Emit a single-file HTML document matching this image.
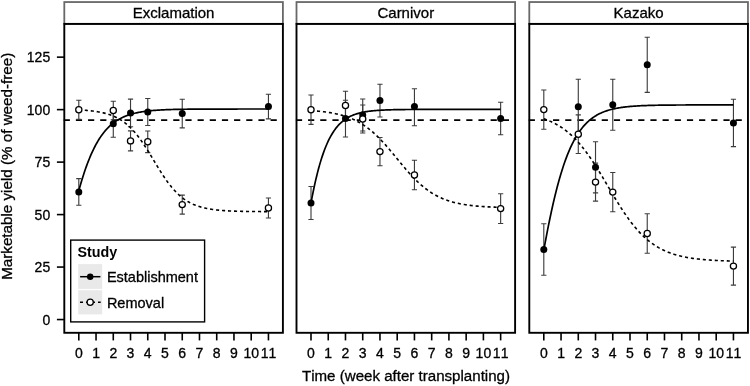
<!DOCTYPE html>
<html><head><meta charset="utf-8"><title>Marketable yield</title>
<style>html,body{margin:0;padding:0;background:#fff}svg{display:block;filter:blur(.35px)}text{stroke:#000;stroke-width:.3px;font-kerning:none}.b{stroke-width:0}</style></head>
<body>
<svg width="750" height="386" viewBox="0 0 750 386" font-family="'Liberation Sans', Arial, sans-serif">
<rect width="750" height="386" fill="#fff"/>
<rect x="64.3" y="2.05" width="218.59999999999997" height="21.849999999999998" fill="#fff" stroke="#686868" stroke-width="1.8"/>
<text x="173.6" y="17.9" font-size="15" text-anchor="middle" fill="#000">Exclamation</text>
<line x1="63.699999999999996" x2="281.7" y1="120.13" y2="120.13" stroke="#000" stroke-width="1.6" stroke-dasharray="6.2 5.97"/>
<path d="M76.20 178.60H81.40M76.20 205.20H81.40M78.80 178.60V205.20" stroke="#3c3c3c" stroke-width="1.12" fill="none"/>
<path d="M110.68 110.10H115.88M110.68 137.30H115.88M113.28 110.10V137.30" stroke="#3c3c3c" stroke-width="1.12" fill="none"/>
<path d="M127.92 99.10H133.12M127.92 126.70H133.12M130.52 99.10V126.70" stroke="#3c3c3c" stroke-width="1.12" fill="none"/>
<path d="M145.16 98.50H150.36M145.16 125.50H150.36M147.76 98.50V125.50" stroke="#3c3c3c" stroke-width="1.12" fill="none"/>
<path d="M179.64 99.30H184.84M179.64 127.90H184.84M182.24 99.30V127.90" stroke="#3c3c3c" stroke-width="1.12" fill="none"/>
<path d="M265.84 94.30H271.04M265.84 118.90H271.04M268.44 94.30V118.90" stroke="#3c3c3c" stroke-width="1.12" fill="none"/>
<path d="M76.20 100.20H81.40M76.20 119.40H81.40M78.80 100.20V119.40" stroke="#3c3c3c" stroke-width="1.12" fill="none"/>
<path d="M110.68 101.20H115.88M110.68 119.80H115.88M113.28 101.20V119.80" stroke="#3c3c3c" stroke-width="1.12" fill="none"/>
<path d="M127.92 130.90H133.12M127.92 150.90H133.12M130.52 130.90V150.90" stroke="#3c3c3c" stroke-width="1.12" fill="none"/>
<path d="M145.16 131.00H150.36M145.16 152.60H150.36M147.76 131.00V152.60" stroke="#3c3c3c" stroke-width="1.12" fill="none"/>
<path d="M179.64 195.10H184.84M179.64 214.10H184.84M182.24 195.10V214.10" stroke="#3c3c3c" stroke-width="1.12" fill="none"/>
<path d="M265.84 198.00H271.04M265.84 218.00H271.04M268.44 198.00V218.00" stroke="#3c3c3c" stroke-width="1.12" fill="none"/>
<polyline points="78.80,190.61 79.75,187.23 80.70,183.95 81.64,180.77 82.59,177.69 83.54,174.71 84.49,171.84 85.44,169.07 86.39,166.39 87.33,163.81 88.28,161.33 89.23,158.95 90.18,156.65 91.13,154.45 92.07,152.33 93.02,150.30 93.97,148.35 94.92,146.49 95.87,144.70 96.82,142.99 97.76,141.35 98.71,139.79 99.66,138.29 100.61,136.86 101.56,135.49 102.50,134.19 103.45,132.95 104.40,131.76 105.35,130.63 106.30,129.55 107.25,128.52 108.19,127.54 109.14,126.61 110.09,125.72 111.04,124.87 111.99,124.07 112.94,123.31 113.88,122.58 114.83,121.89 115.78,121.23 116.73,120.60 117.68,120.01 118.62,119.44 119.57,118.91 120.52,118.40 121.47,117.91 122.42,117.45 123.37,117.02 124.31,116.60 125.26,116.21 126.21,115.83 127.16,115.48 128.11,115.14 129.05,114.82 130.00,114.52 130.95,114.23 131.90,113.96 132.85,113.70 133.80,113.46 134.74,113.23 135.69,113.01 136.64,112.80 137.59,112.60 138.54,112.41 139.48,112.23 140.43,112.06 141.38,111.90 142.33,111.75 143.28,111.61 144.23,111.47 145.17,111.34 146.12,111.22 147.07,111.10 148.02,110.99 148.97,110.89 149.91,110.79 150.86,110.70 151.81,110.61 152.76,110.52 153.71,110.44 154.66,110.37 155.60,110.30 156.55,110.23 157.50,110.17 158.45,110.10 159.40,110.05 160.35,109.99 161.29,109.94 162.24,109.89 163.19,109.85 164.14,109.80 165.09,109.76 166.03,109.72 166.98,109.68 167.93,109.65 168.88,109.61 169.83,109.58 170.78,109.55 171.72,109.52 172.67,109.50 173.62,109.47 174.57,109.45 175.52,109.42 176.46,109.40 177.41,109.38 178.36,109.36 179.31,109.34 180.26,109.33 181.21,109.31 182.15,109.29 183.10,109.28 184.05,109.27 185.00,109.25 185.95,109.24 186.89,109.23 187.84,109.22 188.79,109.21 189.74,109.20 190.69,109.19 191.64,109.18 192.58,109.17 193.53,109.16 194.48,109.15 195.43,109.14 196.38,109.14 197.32,109.13 198.27,109.12 199.22,109.12 200.17,109.11 201.12,109.11 202.07,109.10 203.01,109.10 203.96,109.09 204.91,109.09 205.86,109.09 206.81,109.08 207.76,109.08 208.70,109.07 209.65,109.07 210.60,109.07 211.55,109.07 212.50,109.06 213.44,109.06 214.39,109.06 215.34,109.06 216.29,109.05 217.24,109.05 218.19,109.05 219.13,109.05 220.08,109.05 221.03,109.04 221.98,109.04 222.93,109.04 223.87,109.04 224.82,109.04 225.77,109.04 226.72,109.03 227.67,109.03 228.62,109.03 229.56,109.03 230.51,109.03 231.46,109.03 232.41,109.03 233.36,109.03 234.30,109.03 235.25,109.03 236.20,109.03 237.15,109.03 238.10,109.02 239.05,109.02 239.99,109.02 240.94,109.02 241.89,109.02 242.84,109.02 243.79,109.02 244.73,109.02 245.68,109.02 246.63,109.02 247.58,109.02 248.53,109.02 249.48,109.02 250.42,109.02 251.37,109.02 252.32,109.02 253.27,109.02 254.22,109.02 255.17,109.02 256.11,109.02 257.06,109.02 258.01,109.02 258.96,109.02 259.91,109.02 260.85,109.02 261.80,109.02 262.75,109.02 263.70,109.02 264.65,109.02 265.60,109.02 266.54,109.02 267.49,109.02 268.44,109.02" fill="none" stroke="#000" stroke-width="1.7"/>
<polyline points="78.80,109.89 79.75,109.94 80.70,109.99 81.64,110.05 82.59,110.11 83.54,110.17 84.49,110.24 85.44,110.31 86.39,110.39 87.33,110.47 88.28,110.55 89.23,110.64 90.18,110.74 91.13,110.84 92.07,110.95 93.02,111.06 93.97,111.19 94.92,111.32 95.87,111.45 96.82,111.60 97.76,111.75 98.71,111.92 99.66,112.09 100.61,112.27 101.56,112.47 102.50,112.67 103.45,112.89 104.40,113.12 105.35,113.37 106.30,113.62 107.25,113.90 108.19,114.19 109.14,114.49 110.09,114.81 111.04,115.15 111.99,115.51 112.94,115.89 113.88,116.29 114.83,116.72 115.78,117.16 116.73,117.63 117.68,118.12 118.62,118.64 119.57,119.19 120.52,119.76 121.47,120.36 122.42,120.99 123.37,121.65 124.31,122.34 125.26,123.07 126.21,123.83 127.16,124.62 128.11,125.45 129.05,126.31 130.00,127.21 130.95,128.14 131.90,129.11 132.85,130.12 133.80,131.17 134.74,132.25 135.69,133.37 136.64,134.53 137.59,135.72 138.54,136.95 139.48,138.21 140.43,139.51 141.38,140.84 142.33,142.21 143.28,143.60 144.23,145.02 145.17,146.47 146.12,147.94 147.07,149.43 148.02,150.95 148.97,152.48 149.91,154.02 150.86,155.58 151.81,157.15 152.76,158.72 153.71,160.29 154.66,161.87 155.60,163.44 156.55,165.01 157.50,166.57 158.45,168.11 159.40,169.65 160.35,171.16 161.29,172.66 162.24,174.13 163.19,175.58 164.14,177.01 165.09,178.40 166.03,179.77 166.98,181.11 167.93,182.41 168.88,183.68 169.83,184.91 170.78,186.11 171.72,187.27 172.67,188.39 173.62,189.48 174.57,190.53 175.52,191.55 176.46,192.52 177.41,193.46 178.36,194.36 179.31,195.23 180.26,196.06 181.21,196.86 182.15,197.62 183.10,198.35 184.05,199.05 185.00,199.71 185.95,200.35 186.89,200.95 187.84,201.53 188.79,202.07 189.74,202.60 190.69,203.09 191.64,203.56 192.58,204.01 193.53,204.44 194.48,204.84 195.43,205.22 196.38,205.58 197.32,205.93 198.27,206.25 199.22,206.56 200.17,206.85 201.12,207.12 202.07,207.38 203.01,207.63 203.96,207.86 204.91,208.08 205.86,208.29 206.81,208.49 207.76,208.67 208.70,208.84 209.65,209.01 210.60,209.16 211.55,209.31 212.50,209.45 213.44,209.58 214.39,209.70 215.34,209.82 216.29,209.93 217.24,210.03 218.19,210.13 219.13,210.22 220.08,210.30 221.03,210.38 221.98,210.46 222.93,210.53 223.87,210.60 224.82,210.66 225.77,210.72 226.72,210.78 227.67,210.83 228.62,210.88 229.56,210.93 230.51,210.97 231.46,211.02 232.41,211.06 233.36,211.09 234.30,211.13 235.25,211.16 236.20,211.19 237.15,211.22 238.10,211.25 239.05,211.27 239.99,211.30 240.94,211.32 241.89,211.34 242.84,211.36 243.79,211.38 244.73,211.40 245.68,211.41 246.63,211.43 247.58,211.44 248.53,211.46 249.48,211.47 250.42,211.48 251.37,211.50 252.32,211.51 253.27,211.52 254.22,211.53 255.17,211.54 256.11,211.54 257.06,211.55 258.01,211.56 258.96,211.57 259.91,211.57 260.85,211.58 261.80,211.59 262.75,211.59 263.70,211.60 264.65,211.60 265.60,211.61 266.54,211.61 267.49,211.61 268.44,211.62" fill="none" stroke="#000" stroke-width="1.6" stroke-dasharray="3.1 2.9"/>
<circle cx="78.80" cy="191.90" r="3.5" fill="#000"/>
<circle cx="113.28" cy="123.70" r="3.5" fill="#000"/>
<circle cx="130.52" cy="112.90" r="3.5" fill="#000"/>
<circle cx="147.76" cy="112.00" r="3.5" fill="#000"/>
<circle cx="182.24" cy="113.60" r="3.5" fill="#000"/>
<circle cx="268.44" cy="106.60" r="3.5" fill="#000"/>
<circle cx="78.80" cy="109.80" r="3.1" fill="#fff" stroke="#000" stroke-width="1.25"/>
<circle cx="113.28" cy="110.50" r="3.1" fill="#fff" stroke="#000" stroke-width="1.25"/>
<circle cx="130.52" cy="140.90" r="3.1" fill="#fff" stroke="#000" stroke-width="1.25"/>
<circle cx="147.76" cy="141.80" r="3.1" fill="#fff" stroke="#000" stroke-width="1.25"/>
<circle cx="182.24" cy="204.60" r="3.1" fill="#fff" stroke="#000" stroke-width="1.25"/>
<circle cx="268.44" cy="208.00" r="3.1" fill="#fff" stroke="#000" stroke-width="1.25"/>
<rect x="64.3" y="23.9" width="218.59999999999997" height="308.90000000000003" fill="none" stroke="#000" stroke-width="1.9"/>
<line x1="78.80" x2="78.80" y1="332.8" y2="340.40000000000003" stroke="#000" stroke-width="1.6"/>
<text x="78.80" y="358.2" font-size="14" text-anchor="middle" fill="#000">0</text>
<line x1="96.04" x2="96.04" y1="332.8" y2="340.40000000000003" stroke="#000" stroke-width="1.6"/>
<text x="96.04" y="358.2" font-size="14" text-anchor="middle" fill="#000">1</text>
<line x1="113.28" x2="113.28" y1="332.8" y2="340.40000000000003" stroke="#000" stroke-width="1.6"/>
<text x="113.28" y="358.2" font-size="14" text-anchor="middle" fill="#000">2</text>
<line x1="130.52" x2="130.52" y1="332.8" y2="340.40000000000003" stroke="#000" stroke-width="1.6"/>
<text x="130.52" y="358.2" font-size="14" text-anchor="middle" fill="#000">3</text>
<line x1="147.76" x2="147.76" y1="332.8" y2="340.40000000000003" stroke="#000" stroke-width="1.6"/>
<text x="147.76" y="358.2" font-size="14" text-anchor="middle" fill="#000">4</text>
<line x1="165.00" x2="165.00" y1="332.8" y2="340.40000000000003" stroke="#000" stroke-width="1.6"/>
<text x="165.00" y="358.2" font-size="14" text-anchor="middle" fill="#000">5</text>
<line x1="182.24" x2="182.24" y1="332.8" y2="340.40000000000003" stroke="#000" stroke-width="1.6"/>
<text x="182.24" y="358.2" font-size="14" text-anchor="middle" fill="#000">6</text>
<line x1="199.48" x2="199.48" y1="332.8" y2="340.40000000000003" stroke="#000" stroke-width="1.6"/>
<text x="199.48" y="358.2" font-size="14" text-anchor="middle" fill="#000">7</text>
<line x1="216.72" x2="216.72" y1="332.8" y2="340.40000000000003" stroke="#000" stroke-width="1.6"/>
<text x="216.72" y="358.2" font-size="14" text-anchor="middle" fill="#000">8</text>
<line x1="233.96" x2="233.96" y1="332.8" y2="340.40000000000003" stroke="#000" stroke-width="1.6"/>
<text x="233.96" y="358.2" font-size="14" text-anchor="middle" fill="#000">9</text>
<line x1="251.20" x2="251.20" y1="332.8" y2="340.40000000000003" stroke="#000" stroke-width="1.6"/>
<text x="251.20" y="358.2" font-size="14" text-anchor="middle" fill="#000">10</text>
<line x1="268.44" x2="268.44" y1="332.8" y2="340.40000000000003" stroke="#000" stroke-width="1.6"/>
<text x="268.44" y="358.2" font-size="14" text-anchor="middle" fill="#000">11</text>
<rect x="296.5" y="2.05" width="218.60000000000002" height="21.849999999999998" fill="#fff" stroke="#686868" stroke-width="1.8"/>
<text x="405.8" y="17.9" font-size="15" text-anchor="middle" fill="#000">Carnivor</text>
<line x1="295.9" x2="513.9" y1="120.13" y2="120.13" stroke="#000" stroke-width="1.6" stroke-dasharray="6.2 5.97"/>
<path d="M308.40 186.50H313.60M308.40 219.50H313.60M311.00 186.50V219.50" stroke="#3c3c3c" stroke-width="1.12" fill="none"/>
<path d="M342.88 100.20H348.08M342.88 137.00H348.08M345.48 100.20V137.00" stroke="#3c3c3c" stroke-width="1.12" fill="none"/>
<path d="M360.12 99.00H365.32M360.12 131.00H365.32M362.72 99.00V131.00" stroke="#3c3c3c" stroke-width="1.12" fill="none"/>
<path d="M377.36 84.20H382.56M377.36 117.00H382.56M379.96 84.20V117.00" stroke="#3c3c3c" stroke-width="1.12" fill="none"/>
<path d="M411.84 88.80H417.04M411.84 125.80H417.04M414.44 88.80V125.80" stroke="#3c3c3c" stroke-width="1.12" fill="none"/>
<path d="M498.04 102.30H503.24M498.04 134.70H503.24M500.64 102.30V134.70" stroke="#3c3c3c" stroke-width="1.12" fill="none"/>
<path d="M308.40 95.00H313.60M308.40 124.40H313.60M311.00 95.00V124.40" stroke="#3c3c3c" stroke-width="1.12" fill="none"/>
<path d="M342.88 91.20H348.08M342.88 119.60H348.08M345.48 91.20V119.60" stroke="#3c3c3c" stroke-width="1.12" fill="none"/>
<path d="M360.12 105.00H365.32M360.12 133.00H365.32M362.72 105.00V133.00" stroke="#3c3c3c" stroke-width="1.12" fill="none"/>
<path d="M377.36 137.50H382.56M377.36 165.70H382.56M379.96 137.50V165.70" stroke="#3c3c3c" stroke-width="1.12" fill="none"/>
<path d="M411.84 160.30H417.04M411.84 189.70H417.04M414.44 160.30V189.70" stroke="#3c3c3c" stroke-width="1.12" fill="none"/>
<path d="M498.04 193.70H503.24M498.04 223.50H503.24M500.64 193.70V223.50" stroke="#3c3c3c" stroke-width="1.12" fill="none"/>
<polyline points="311.00,202.93 311.95,197.91 312.90,193.10 313.84,188.51 314.79,184.12 315.74,179.93 316.69,175.95 317.64,172.16 318.59,168.55 319.53,165.12 320.48,161.88 321.43,158.79 322.38,155.88 323.33,153.11 324.27,150.50 325.22,148.03 326.17,145.70 327.12,143.49 328.07,141.42 329.02,139.46 329.96,137.61 330.91,135.87 331.86,134.23 332.81,132.69 333.76,131.24 334.70,129.88 335.65,128.60 336.60,127.39 337.55,126.26 338.50,125.20 339.45,124.20 340.39,123.26 341.34,122.38 342.29,121.56 343.24,120.78 344.19,120.06 345.14,119.38 346.08,118.74 347.03,118.14 347.98,117.58 348.93,117.06 349.88,116.56 350.82,116.10 351.77,115.67 352.72,115.27 353.67,114.89 354.62,114.53 355.57,114.20 356.51,113.89 357.46,113.60 358.41,113.33 359.36,113.07 360.31,112.84 361.25,112.61 362.20,112.40 363.15,112.21 364.10,112.02 365.05,111.85 366.00,111.69 366.94,111.54 367.89,111.40 368.84,111.27 369.79,111.15 370.74,111.04 371.68,110.93 372.63,110.83 373.58,110.73 374.53,110.65 375.48,110.56 376.43,110.49 377.37,110.42 378.32,110.35 379.27,110.29 380.22,110.23 381.17,110.17 382.12,110.12 383.06,110.07 384.01,110.03 384.96,109.99 385.91,109.95 386.86,109.91 387.80,109.87 388.75,109.84 389.70,109.81 390.65,109.78 391.60,109.76 392.55,109.73 393.49,109.71 394.44,109.69 395.39,109.67 396.34,109.65 397.29,109.63 398.23,109.62 399.18,109.60 400.13,109.59 401.08,109.57 402.03,109.56 402.98,109.55 403.92,109.54 404.87,109.53 405.82,109.52 406.77,109.51 407.72,109.50 408.66,109.49 409.61,109.49 410.56,109.48 411.51,109.47 412.46,109.47 413.41,109.46 414.35,109.46 415.30,109.45 416.25,109.45 417.20,109.44 418.15,109.44 419.09,109.43 420.04,109.43 420.99,109.43 421.94,109.42 422.89,109.42 423.84,109.42 424.78,109.42 425.73,109.41 426.68,109.41 427.63,109.41 428.58,109.41 429.52,109.41 430.47,109.40 431.42,109.40 432.37,109.40 433.32,109.40 434.27,109.40 435.21,109.40 436.16,109.40 437.11,109.40 438.06,109.39 439.01,109.39 439.96,109.39 440.90,109.39 441.85,109.39 442.80,109.39 443.75,109.39 444.70,109.39 445.64,109.39 446.59,109.39 447.54,109.39 448.49,109.39 449.44,109.39 450.39,109.39 451.33,109.39 452.28,109.39 453.23,109.38 454.18,109.38 455.13,109.38 456.07,109.38 457.02,109.38 457.97,109.38 458.92,109.38 459.87,109.38 460.82,109.38 461.76,109.38 462.71,109.38 463.66,109.38 464.61,109.38 465.56,109.38 466.50,109.38 467.45,109.38 468.40,109.38 469.35,109.38 470.30,109.38 471.25,109.38 472.19,109.38 473.14,109.38 474.09,109.38 475.04,109.38 475.99,109.38 476.93,109.38 477.88,109.38 478.83,109.38 479.78,109.38 480.73,109.38 481.68,109.38 482.62,109.38 483.57,109.38 484.52,109.38 485.47,109.38 486.42,109.38 487.37,109.38 488.31,109.38 489.26,109.38 490.21,109.38 491.16,109.38 492.11,109.38 493.05,109.38 494.00,109.38 494.95,109.38 495.90,109.38 496.85,109.38 497.80,109.38 498.74,109.38 499.69,109.38 500.64,109.38" fill="none" stroke="#000" stroke-width="1.7"/>
<polyline points="311.00,110.58 311.95,110.64 312.90,110.71 313.84,110.78 314.79,110.86 315.74,110.94 316.69,111.02 317.64,111.10 318.59,111.19 319.53,111.29 320.48,111.39 321.43,111.49 322.38,111.60 323.33,111.71 324.27,111.83 325.22,111.95 326.17,112.08 327.12,112.21 328.07,112.36 329.02,112.50 329.96,112.66 330.91,112.82 331.86,112.98 332.81,113.16 333.76,113.34 334.70,113.53 335.65,113.73 336.60,113.94 337.55,114.15 338.50,114.38 339.45,114.61 340.39,114.86 341.34,115.12 342.29,115.38 343.24,115.66 344.19,115.95 345.14,116.25 346.08,116.57 347.03,116.89 347.98,117.23 348.93,117.58 349.88,117.95 350.82,118.33 351.77,118.73 352.72,119.14 353.67,119.57 354.62,120.01 355.57,120.47 356.51,120.95 357.46,121.44 358.41,121.96 359.36,122.49 360.31,123.04 361.25,123.60 362.20,124.19 363.15,124.80 364.10,125.42 365.05,126.07 366.00,126.74 366.94,127.42 367.89,128.13 368.84,128.86 369.79,129.61 370.74,130.38 371.68,131.17 372.63,131.98 373.58,132.81 374.53,133.66 375.48,134.54 376.43,135.43 377.37,136.35 378.32,137.28 379.27,138.23 380.22,139.20 381.17,140.19 382.12,141.19 383.06,142.22 384.01,143.26 384.96,144.31 385.91,145.38 386.86,146.46 387.80,147.55 388.75,148.66 389.70,149.78 390.65,150.90 391.60,152.03 392.55,153.18 393.49,154.32 394.44,155.47 395.39,156.63 396.34,157.78 397.29,158.94 398.23,160.10 399.18,161.25 400.13,162.41 401.08,163.56 402.03,164.70 402.98,165.83 403.92,166.96 404.87,168.08 405.82,169.19 406.77,170.29 407.72,171.38 408.66,172.45 409.61,173.51 410.56,174.55 411.51,175.58 412.46,176.59 413.41,177.59 414.35,178.56 415.30,179.52 416.25,180.46 417.20,181.38 418.15,182.28 419.09,183.16 420.04,184.02 420.99,184.86 421.94,185.68 422.89,186.48 423.84,187.26 424.78,188.01 425.73,188.75 426.68,189.46 427.63,190.16 428.58,190.83 429.52,191.48 430.47,192.11 431.42,192.73 432.37,193.32 433.32,193.90 434.27,194.45 435.21,194.99 436.16,195.51 437.11,196.01 438.06,196.49 439.01,196.96 439.96,197.41 440.90,197.84 441.85,198.26 442.80,198.66 443.75,199.04 444.70,199.42 445.64,199.77 446.59,200.12 447.54,200.45 448.49,200.77 449.44,201.07 450.39,201.37 451.33,201.65 452.28,201.92 453.23,202.18 454.18,202.43 455.13,202.67 456.07,202.90 457.02,203.11 457.97,203.33 458.92,203.53 459.87,203.72 460.82,203.91 461.76,204.08 462.71,204.25 463.66,204.42 464.61,204.57 465.56,204.72 466.50,204.86 467.45,205.00 468.40,205.13 469.35,205.26 470.30,205.38 471.25,205.49 472.19,205.60 473.14,205.70 474.09,205.80 475.04,205.90 475.99,205.99 476.93,206.08 477.88,206.16 478.83,206.24 479.78,206.32 480.73,206.39 481.68,206.46 482.62,206.53 483.57,206.59 484.52,206.65 485.47,206.71 486.42,206.77 487.37,206.82 488.31,206.87 489.26,206.92 490.21,206.96 491.16,207.01 492.11,207.05 493.05,207.09 494.00,207.13 494.95,207.16 495.90,207.20 496.85,207.23 497.80,207.27 498.74,207.30 499.69,207.33 500.64,207.35" fill="none" stroke="#000" stroke-width="1.6" stroke-dasharray="3.1 2.9"/>
<circle cx="311.00" cy="203.00" r="3.5" fill="#000"/>
<circle cx="345.48" cy="118.60" r="3.5" fill="#000"/>
<circle cx="362.72" cy="115.00" r="3.5" fill="#000"/>
<circle cx="379.96" cy="100.60" r="3.5" fill="#000"/>
<circle cx="414.44" cy="106.40" r="3.5" fill="#000"/>
<circle cx="500.64" cy="118.50" r="3.5" fill="#000"/>
<circle cx="311.00" cy="109.70" r="3.1" fill="#fff" stroke="#000" stroke-width="1.25"/>
<circle cx="345.48" cy="105.40" r="3.1" fill="#fff" stroke="#000" stroke-width="1.25"/>
<circle cx="362.72" cy="119.00" r="3.1" fill="#fff" stroke="#000" stroke-width="1.25"/>
<circle cx="379.96" cy="151.60" r="3.1" fill="#fff" stroke="#000" stroke-width="1.25"/>
<circle cx="414.44" cy="175.00" r="3.1" fill="#fff" stroke="#000" stroke-width="1.25"/>
<circle cx="500.64" cy="208.60" r="3.1" fill="#fff" stroke="#000" stroke-width="1.25"/>
<rect x="296.5" y="23.9" width="218.60000000000002" height="308.90000000000003" fill="none" stroke="#000" stroke-width="1.9"/>
<line x1="311.00" x2="311.00" y1="332.8" y2="340.40000000000003" stroke="#000" stroke-width="1.6"/>
<text x="311.00" y="358.2" font-size="14" text-anchor="middle" fill="#000">0</text>
<line x1="328.24" x2="328.24" y1="332.8" y2="340.40000000000003" stroke="#000" stroke-width="1.6"/>
<text x="328.24" y="358.2" font-size="14" text-anchor="middle" fill="#000">1</text>
<line x1="345.48" x2="345.48" y1="332.8" y2="340.40000000000003" stroke="#000" stroke-width="1.6"/>
<text x="345.48" y="358.2" font-size="14" text-anchor="middle" fill="#000">2</text>
<line x1="362.72" x2="362.72" y1="332.8" y2="340.40000000000003" stroke="#000" stroke-width="1.6"/>
<text x="362.72" y="358.2" font-size="14" text-anchor="middle" fill="#000">3</text>
<line x1="379.96" x2="379.96" y1="332.8" y2="340.40000000000003" stroke="#000" stroke-width="1.6"/>
<text x="379.96" y="358.2" font-size="14" text-anchor="middle" fill="#000">4</text>
<line x1="397.20" x2="397.20" y1="332.8" y2="340.40000000000003" stroke="#000" stroke-width="1.6"/>
<text x="397.20" y="358.2" font-size="14" text-anchor="middle" fill="#000">5</text>
<line x1="414.44" x2="414.44" y1="332.8" y2="340.40000000000003" stroke="#000" stroke-width="1.6"/>
<text x="414.44" y="358.2" font-size="14" text-anchor="middle" fill="#000">6</text>
<line x1="431.68" x2="431.68" y1="332.8" y2="340.40000000000003" stroke="#000" stroke-width="1.6"/>
<text x="431.68" y="358.2" font-size="14" text-anchor="middle" fill="#000">7</text>
<line x1="448.92" x2="448.92" y1="332.8" y2="340.40000000000003" stroke="#000" stroke-width="1.6"/>
<text x="448.92" y="358.2" font-size="14" text-anchor="middle" fill="#000">8</text>
<line x1="466.16" x2="466.16" y1="332.8" y2="340.40000000000003" stroke="#000" stroke-width="1.6"/>
<text x="466.16" y="358.2" font-size="14" text-anchor="middle" fill="#000">9</text>
<line x1="483.40" x2="483.40" y1="332.8" y2="340.40000000000003" stroke="#000" stroke-width="1.6"/>
<text x="483.40" y="358.2" font-size="14" text-anchor="middle" fill="#000">10</text>
<line x1="500.64" x2="500.64" y1="332.8" y2="340.40000000000003" stroke="#000" stroke-width="1.6"/>
<text x="500.64" y="358.2" font-size="14" text-anchor="middle" fill="#000">11</text>
<rect x="529.3" y="2.05" width="218.6500000000001" height="21.849999999999998" fill="#fff" stroke="#686868" stroke-width="1.8"/>
<text x="638.625" y="17.9" font-size="15" text-anchor="middle" fill="#000">Kazako</text>
<line x1="528.6999999999999" x2="746.75" y1="120.13" y2="120.13" stroke="#000" stroke-width="1.6" stroke-dasharray="6.2 5.97"/>
<path d="M541.20 223.80H546.40M541.20 275.20H546.40M543.80 223.80V275.20" stroke="#3c3c3c" stroke-width="1.12" fill="none"/>
<path d="M575.68 79.20H580.88M575.68 134.20H580.88M578.28 79.20V134.20" stroke="#3c3c3c" stroke-width="1.12" fill="none"/>
<path d="M592.92 141.70H598.12M592.92 192.90H598.12M595.52 141.70V192.90" stroke="#3c3c3c" stroke-width="1.12" fill="none"/>
<path d="M610.16 79.20H615.36M610.16 130.20H615.36M612.76 79.20V130.20" stroke="#3c3c3c" stroke-width="1.12" fill="none"/>
<path d="M644.64 37.20H649.84M644.64 92.40H649.84M647.24 37.20V92.40" stroke="#3c3c3c" stroke-width="1.12" fill="none"/>
<path d="M730.84 99.20H736.04M730.84 146.60H736.04M733.44 99.20V146.60" stroke="#3c3c3c" stroke-width="1.12" fill="none"/>
<path d="M541.20 90.00H546.40M541.20 129.20H546.40M543.80 90.00V129.20" stroke="#3c3c3c" stroke-width="1.12" fill="none"/>
<path d="M575.68 114.90H580.88M575.68 153.50H580.88M578.28 114.90V153.50" stroke="#3c3c3c" stroke-width="1.12" fill="none"/>
<path d="M592.92 163.10H598.12M592.92 201.10H598.12M595.52 163.10V201.10" stroke="#3c3c3c" stroke-width="1.12" fill="none"/>
<path d="M610.16 172.50H615.36M610.16 211.70H615.36M612.76 172.50V211.70" stroke="#3c3c3c" stroke-width="1.12" fill="none"/>
<path d="M644.64 213.70H649.84M644.64 253.30H649.84M647.24 213.70V253.30" stroke="#3c3c3c" stroke-width="1.12" fill="none"/>
<path d="M730.84 247.10H736.04M730.84 285.10H736.04M733.44 247.10V285.10" stroke="#3c3c3c" stroke-width="1.12" fill="none"/>
<polyline points="543.80,250.10 544.75,244.91 545.70,239.81 546.64,234.82 547.59,229.94 548.54,225.17 549.49,220.51 550.44,215.96 551.39,211.54 552.33,207.24 553.28,203.06 554.23,199.00 555.18,195.06 556.13,191.24 557.07,187.55 558.02,183.98 558.97,180.53 559.92,177.21 560.87,173.99 561.82,170.90 562.76,167.92 563.71,165.05 564.66,162.30 565.61,159.65 566.56,157.10 567.50,154.66 568.45,152.32 569.40,150.08 570.35,147.93 571.30,145.87 572.25,143.90 573.19,142.02 574.14,140.22 575.09,138.50 576.04,136.85 576.99,135.28 577.94,133.78 578.88,132.36 579.83,130.99 580.78,129.69 581.73,128.45 582.68,127.28 583.62,126.15 584.57,125.08 585.52,124.06 586.47,123.09 587.42,122.17 588.37,121.29 589.31,120.46 590.26,119.67 591.21,118.91 592.16,118.19 593.11,117.51 594.05,116.86 595.00,116.25 595.95,115.67 596.90,115.11 597.85,114.58 598.80,114.08 599.74,113.61 600.69,113.16 601.64,112.73 602.59,112.32 603.54,111.94 604.48,111.57 605.43,111.23 606.38,110.90 607.33,110.58 608.28,110.29 609.23,110.01 610.17,109.74 611.12,109.49 612.07,109.25 613.02,109.02 613.97,108.81 614.91,108.60 615.86,108.41 616.81,108.23 617.76,108.05 618.71,107.89 619.66,107.73 620.60,107.58 621.55,107.44 622.50,107.31 623.45,107.18 624.40,107.06 625.35,106.95 626.29,106.84 627.24,106.74 628.19,106.65 629.14,106.55 630.09,106.47 631.03,106.39 631.98,106.31 632.93,106.23 633.88,106.16 634.83,106.10 635.78,106.04 636.72,105.98 637.67,105.92 638.62,105.87 639.57,105.82 640.52,105.77 641.46,105.72 642.41,105.68 643.36,105.64 644.31,105.60 645.26,105.57 646.21,105.53 647.15,105.50 648.10,105.47 649.05,105.44 650.00,105.41 650.95,105.38 651.89,105.36 652.84,105.34 653.79,105.31 654.74,105.29 655.69,105.27 656.64,105.25 657.58,105.23 658.53,105.22 659.48,105.20 660.43,105.19 661.38,105.17 662.32,105.16 663.27,105.14 664.22,105.13 665.17,105.12 666.12,105.11 667.07,105.10 668.01,105.09 668.96,105.08 669.91,105.07 670.86,105.06 671.81,105.05 672.76,105.05 673.70,105.04 674.65,105.03 675.60,105.03 676.55,105.02 677.50,105.01 678.44,105.01 679.39,105.00 680.34,105.00 681.29,104.99 682.24,104.99 683.19,104.99 684.13,104.98 685.08,104.98 686.03,104.97 686.98,104.97 687.93,104.97 688.87,104.97 689.82,104.96 690.77,104.96 691.72,104.96 692.67,104.95 693.62,104.95 694.56,104.95 695.51,104.95 696.46,104.95 697.41,104.94 698.36,104.94 699.30,104.94 700.25,104.94 701.20,104.94 702.15,104.94 703.10,104.94 704.05,104.93 704.99,104.93 705.94,104.93 706.89,104.93 707.84,104.93 708.79,104.93 709.73,104.93 710.68,104.93 711.63,104.93 712.58,104.93 713.53,104.92 714.48,104.92 715.42,104.92 716.37,104.92 717.32,104.92 718.27,104.92 719.22,104.92 720.17,104.92 721.11,104.92 722.06,104.92 723.01,104.92 723.96,104.92 724.91,104.92 725.85,104.92 726.80,104.92 727.75,104.92 728.70,104.92 729.65,104.92 730.60,104.92 731.54,104.92 732.49,104.92 733.44,104.92" fill="none" stroke="#000" stroke-width="1.7"/>
<polyline points="543.80,118.79 544.75,119.12 545.70,119.46 546.64,119.81 547.59,120.18 548.54,120.56 549.49,120.96 550.44,121.37 551.39,121.80 552.33,122.24 553.28,122.70 554.23,123.17 555.18,123.66 556.13,124.18 557.07,124.70 558.02,125.25 558.97,125.82 559.92,126.40 560.87,127.01 561.82,127.64 562.76,128.29 563.71,128.96 564.66,129.65 565.61,130.36 566.56,131.10 567.50,131.86 568.45,132.64 569.40,133.45 570.35,134.29 571.30,135.14 572.25,136.03 573.19,136.94 574.14,137.87 575.09,138.83 576.04,139.82 576.99,140.83 577.94,141.87 578.88,142.93 579.83,144.03 580.78,145.14 581.73,146.29 582.68,147.46 583.62,148.65 584.57,149.88 585.52,151.12 586.47,152.40 587.42,153.69 588.37,155.02 589.31,156.36 590.26,157.73 591.21,159.12 592.16,160.53 593.11,161.96 594.05,163.41 595.00,164.88 595.95,166.37 596.90,167.88 597.85,169.40 598.80,170.93 599.74,172.48 600.69,174.04 601.64,175.62 602.59,177.20 603.54,178.79 604.48,180.38 605.43,181.98 606.38,183.59 607.33,185.20 608.28,186.80 609.23,188.41 610.17,190.02 611.12,191.62 612.07,193.22 613.02,194.81 613.97,196.39 614.91,197.97 615.86,199.53 616.81,201.08 617.76,202.62 618.71,204.15 619.66,205.66 620.60,207.15 621.55,208.62 622.50,210.08 623.45,211.52 624.40,212.94 625.35,214.33 626.29,215.70 627.24,217.06 628.19,218.38 629.14,219.69 630.09,220.97 631.03,222.22 631.98,223.45 632.93,224.65 633.88,225.83 634.83,226.98 635.78,228.11 636.72,229.20 637.67,230.28 638.62,231.32 639.57,232.34 640.52,233.33 641.46,234.30 642.41,235.24 643.36,236.16 644.31,237.05 645.26,237.91 646.21,238.75 647.15,239.57 648.10,240.36 649.05,241.12 650.00,241.87 650.95,242.59 651.89,243.29 652.84,243.96 653.79,244.62 654.74,245.25 655.69,245.86 656.64,246.45 657.58,247.02 658.53,247.58 659.48,248.11 660.43,248.62 661.38,249.12 662.32,249.60 663.27,250.06 664.22,250.51 665.17,250.94 666.12,251.36 667.07,251.76 668.01,252.14 668.96,252.51 669.91,252.87 670.86,253.22 671.81,253.55 672.76,253.87 673.70,254.17 674.65,254.47 675.60,254.75 676.55,255.03 677.50,255.29 678.44,255.54 679.39,255.79 680.34,256.02 681.29,256.25 682.24,256.46 683.19,256.67 684.13,256.87 685.08,257.06 686.03,257.25 686.98,257.42 687.93,257.59 688.87,257.76 689.82,257.91 690.77,258.06 691.72,258.21 692.67,258.35 693.62,258.48 694.56,258.61 695.51,258.73 696.46,258.85 697.41,258.96 698.36,259.07 699.30,259.17 700.25,259.27 701.20,259.37 702.15,259.46 703.10,259.55 704.05,259.63 704.99,259.72 705.94,259.79 706.89,259.87 707.84,259.94 708.79,260.01 709.73,260.07 710.68,260.14 711.63,260.20 712.58,260.26 713.53,260.31 714.48,260.37 715.42,260.42 716.37,260.47 717.32,260.51 718.27,260.56 719.22,260.60 720.17,260.64 721.11,260.68 722.06,260.72 723.01,260.76 723.96,260.79 724.91,260.83 725.85,260.86 726.80,260.89 727.75,260.92 728.70,260.95 729.65,260.98 730.60,261.00 731.54,261.03 732.49,261.05 733.44,261.07" fill="none" stroke="#000" stroke-width="1.6" stroke-dasharray="3.1 2.9"/>
<circle cx="543.80" cy="249.50" r="3.5" fill="#000"/>
<circle cx="578.28" cy="106.70" r="3.5" fill="#000"/>
<circle cx="595.52" cy="167.30" r="3.5" fill="#000"/>
<circle cx="612.76" cy="104.70" r="3.5" fill="#000"/>
<circle cx="647.24" cy="64.80" r="3.5" fill="#000"/>
<circle cx="733.44" cy="122.90" r="3.5" fill="#000"/>
<circle cx="543.80" cy="109.60" r="3.1" fill="#fff" stroke="#000" stroke-width="1.25"/>
<circle cx="578.28" cy="134.20" r="3.1" fill="#fff" stroke="#000" stroke-width="1.25"/>
<circle cx="595.52" cy="182.10" r="3.1" fill="#fff" stroke="#000" stroke-width="1.25"/>
<circle cx="612.76" cy="192.10" r="3.1" fill="#fff" stroke="#000" stroke-width="1.25"/>
<circle cx="647.24" cy="233.50" r="3.1" fill="#fff" stroke="#000" stroke-width="1.25"/>
<circle cx="733.44" cy="266.10" r="3.1" fill="#fff" stroke="#000" stroke-width="1.25"/>
<rect x="529.3" y="23.9" width="218.6500000000001" height="308.90000000000003" fill="none" stroke="#000" stroke-width="1.9"/>
<line x1="543.80" x2="543.80" y1="332.8" y2="340.40000000000003" stroke="#000" stroke-width="1.6"/>
<text x="543.80" y="358.2" font-size="14" text-anchor="middle" fill="#000">0</text>
<line x1="561.04" x2="561.04" y1="332.8" y2="340.40000000000003" stroke="#000" stroke-width="1.6"/>
<text x="561.04" y="358.2" font-size="14" text-anchor="middle" fill="#000">1</text>
<line x1="578.28" x2="578.28" y1="332.8" y2="340.40000000000003" stroke="#000" stroke-width="1.6"/>
<text x="578.28" y="358.2" font-size="14" text-anchor="middle" fill="#000">2</text>
<line x1="595.52" x2="595.52" y1="332.8" y2="340.40000000000003" stroke="#000" stroke-width="1.6"/>
<text x="595.52" y="358.2" font-size="14" text-anchor="middle" fill="#000">3</text>
<line x1="612.76" x2="612.76" y1="332.8" y2="340.40000000000003" stroke="#000" stroke-width="1.6"/>
<text x="612.76" y="358.2" font-size="14" text-anchor="middle" fill="#000">4</text>
<line x1="630.00" x2="630.00" y1="332.8" y2="340.40000000000003" stroke="#000" stroke-width="1.6"/>
<text x="630.00" y="358.2" font-size="14" text-anchor="middle" fill="#000">5</text>
<line x1="647.24" x2="647.24" y1="332.8" y2="340.40000000000003" stroke="#000" stroke-width="1.6"/>
<text x="647.24" y="358.2" font-size="14" text-anchor="middle" fill="#000">6</text>
<line x1="664.48" x2="664.48" y1="332.8" y2="340.40000000000003" stroke="#000" stroke-width="1.6"/>
<text x="664.48" y="358.2" font-size="14" text-anchor="middle" fill="#000">7</text>
<line x1="681.72" x2="681.72" y1="332.8" y2="340.40000000000003" stroke="#000" stroke-width="1.6"/>
<text x="681.72" y="358.2" font-size="14" text-anchor="middle" fill="#000">8</text>
<line x1="698.96" x2="698.96" y1="332.8" y2="340.40000000000003" stroke="#000" stroke-width="1.6"/>
<text x="698.96" y="358.2" font-size="14" text-anchor="middle" fill="#000">9</text>
<line x1="716.20" x2="716.20" y1="332.8" y2="340.40000000000003" stroke="#000" stroke-width="1.6"/>
<text x="716.20" y="358.2" font-size="14" text-anchor="middle" fill="#000">10</text>
<line x1="733.44" x2="733.44" y1="332.8" y2="340.40000000000003" stroke="#000" stroke-width="1.6"/>
<text x="733.44" y="358.2" font-size="14" text-anchor="middle" fill="#000">11</text>
<line x1="56.9" x2="64.3" y1="319.55" y2="319.55" stroke="#000" stroke-width="1.6"/>
<text x="50.2" y="324.55" font-size="14" text-anchor="end" fill="#000">0</text>
<line x1="56.9" x2="64.3" y1="267.07" y2="267.07" stroke="#000" stroke-width="1.6"/>
<text x="50.2" y="272.07" font-size="14" text-anchor="end" fill="#000">25</text>
<line x1="56.9" x2="64.3" y1="214.59" y2="214.59" stroke="#000" stroke-width="1.6"/>
<text x="50.2" y="219.59" font-size="14" text-anchor="end" fill="#000">50</text>
<line x1="56.9" x2="64.3" y1="162.11" y2="162.11" stroke="#000" stroke-width="1.6"/>
<text x="50.2" y="167.11" font-size="14" text-anchor="end" fill="#000">75</text>
<line x1="56.9" x2="64.3" y1="109.63" y2="109.63" stroke="#000" stroke-width="1.6"/>
<text x="50.2" y="114.63" font-size="14" text-anchor="end" fill="#000">100</text>
<line x1="56.9" x2="64.3" y1="57.15" y2="57.15" stroke="#000" stroke-width="1.6"/>
<text x="50.2" y="62.15" font-size="14" text-anchor="end" fill="#000">125</text>
<text x="406" y="381" font-size="15.1" text-anchor="middle" fill="#000">Time (week after transplanting)</text>
<text transform="translate(12.4,166.3) rotate(-90)" font-size="15.2" text-anchor="middle" fill="#000">Marketable yield (% of weed-free)</text>
<rect x="70.7" y="240.1" width="133.9" height="81.8" fill="#fff" stroke="#000" stroke-width="1.4"/>
<text x="77.4" y="257" font-size="14.3" font-weight="bold" class="b" fill="#000">Study</text>
<rect x="78.2" y="264.1" width="24" height="24.8" fill="#e9e9e9"/>
<rect x="78.2" y="290.2" width="24" height="24.2" fill="#e9e9e9"/>
<line x1="80.1" x2="100.4" y1="276.7" y2="276.7" stroke="#000" stroke-width="1.5"/>
<circle cx="90.2" cy="276.7" r="3.2" fill="#000"/>
<line x1="80" x2="100.7" y1="302.3" y2="302.3" stroke="#000" stroke-width="1.6" stroke-dasharray="3 3"/>
<circle cx="90.2" cy="302.3" r="3.1" fill="#fff" stroke="#000" stroke-width="1.25"/>
<text x="106.9" y="281.7" font-size="14.5" fill="#000">Establishment</text>
<text x="106.9" y="307.8" font-size="14.5" fill="#000">Removal</text>
</svg>
</body></html>
